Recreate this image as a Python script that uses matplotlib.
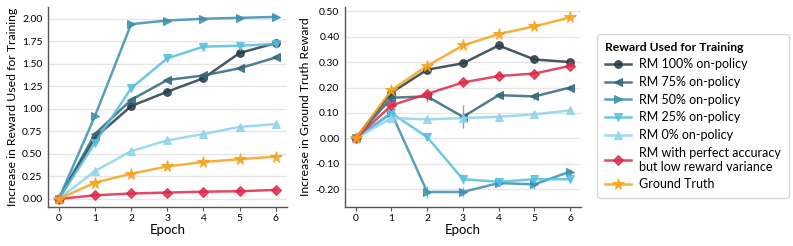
import numpy as np
import matplotlib
matplotlib.use('Agg')
import matplotlib.pyplot as plt

plt.rcParams['font.family'] = ['Lato', 'DejaVu Sans']
plt.rcParams['axes.unicode_minus'] = False

epochs = [0, 1, 2, 3, 4, 5, 6]

labels = ['RM 100% on-policy', 'RM 75% on-policy', 'RM 50% on-policy',
          'RM 25% on-policy', 'RM 0% on-policy',
          'RM with perfect accuracy\nbut low reward variance', 'Ground Truth']

# increase in reward used for training
train_rm100 = [0, 0.68, 1.03, 1.19, 1.34, 1.62, 1.73]
train_rm75 = [0, 0.72, 1.10, 1.32, 1.37, 1.45, 1.57]
train_rm50 = [0, 0.92, 1.94, 1.98, 2.00, 2.01, 2.02]
train_rm25 = [0, 0.62, 1.23, 1.56, 1.69, 1.70, 1.72]
train_rm0 = [0, 0.31, 0.53, 0.65, 0.72, 0.80, 0.83]
train_perfect = [0, 0.04, 0.06, 0.07, 0.08, 0.085, 0.10]
train_gt = [0, 0.18, 0.28, 0.36, 0.41, 0.44, 0.47]

# increase in ground truth reward
gt_rm100 = [0, 0.18, 0.27, 0.295, 0.365, 0.31, 0.30]
gt_rm75 = [0, 0.16, 0.165, 0.085, 0.17, 0.165, 0.20]
gt_rm50 = [0, 0.10, -0.21, -0.21, -0.175, -0.18, -0.13]
gt_rm25 = [0, 0.10, 0.005, -0.16, -0.17, -0.16, -0.16]
gt_rm0 = [0, 0.08, 0.075, 0.08, 0.085, 0.095, 0.11]
gt_perfect = [0, 0.13, 0.175, 0.22, 0.245, 0.255, 0.285]
gt_gt = [0, 0.19, 0.285, 0.365, 0.41, 0.44, 0.475]

# rough error bars on ground truth panel
gt_err_rm75 = [0, 0.02, 0.02, 0.045, 0.01, 0.015, 0.01]
gt_err_rm50 = [0, 0.01, 0.025, 0.02, 0.015, 0.02, 0.01]
gt_err_rm25 = [0, 0.01, 0.01, 0.02, 0.015, 0.01, 0.01]

colors = ['#253c46', '#33677b', '#3a90b1', '#55bfe1', '#8ed3ec', '#e0294a', '#f6a31c']
markers = ['o', '<', '>', 'v', '^', 'D', '*']
msizes = [5.5, 5.5, 5.5, 5.5, 5.5, 5.5, 8.5]

train_series = [train_rm100, train_rm75, train_rm50, train_rm25, train_rm0, train_perfect, train_gt]
gt_series = [gt_rm100, gt_rm75, gt_rm50, gt_rm25, gt_rm0, gt_perfect, gt_gt]
gt_errs = [None, gt_err_rm75, gt_err_rm50, gt_err_rm25, None, None, None]

fig = plt.figure(figsize=(7.93, 2.46), dpi=100)
ax1 = fig.add_axes([0.0605, 0.1585, 0.301, 0.813])
ax2 = fig.add_axes([0.435, 0.1585, 0.2976, 0.813])

handles = []
for i in range(len(labels)):
    h, = ax1.plot(epochs, train_series[i], color=colors[i], marker=markers[i],
                  markersize=msizes[i], lw=1.8, alpha=0.85, label=labels[i],
                  markeredgewidth=0.8, zorder=3)
    handles.append(h)
    ax2.plot(epochs, gt_series[i], color=colors[i], marker=markers[i],
             markersize=msizes[i], lw=1.8, alpha=0.85,
             markeredgewidth=0.8, zorder=3)
    if gt_errs[i] is not None:
        ax2.errorbar(epochs, gt_series[i], yerr=gt_errs[i], fmt='none',
                     ecolor=colors[i], elinewidth=1, alpha=0.6, zorder=2)

for ax in (ax1, ax2):
    ax.set_xlim(-0.3, 6.3)
    ax.set_xticks(epochs)
    ax.set_xlabel('Epoch', fontsize=9.5, labelpad=1)
    ax.grid(axis='y', color='#e6e6e6', lw=1)
    ax.set_axisbelow(True)
    for s in ('top', 'right'):
        ax.spines[s].set_visible(False)
    for s in ('left', 'bottom'):
        ax.spines[s].set_color('#555555')
        ax.spines[s].set_linewidth(1)
    ax.tick_params(axis='x', length=3, labelsize=7.5, color='#555555', pad=2)
    ax.tick_params(axis='y', length=0, labelsize=7.5, pad=4)

ax1.set_ylim(-0.09, 2.13)
ax1.set_yticks(np.arange(0, 2.01, 0.25))
ax1.yaxis.set_major_formatter(matplotlib.ticker.FormatStrFormatter('%.2f'))
ax1.set_ylabel('Increase in Reward Used for Training', fontsize=8.8, labelpad=3)

ax2.set_ylim(-0.269, 0.516)
ax2.set_yticks(np.arange(-0.2, 0.51, 0.1))
ax2.yaxis.set_major_formatter(matplotlib.ticker.FormatStrFormatter('%.2f'))
ax2.set_ylabel('Increase in Ground Truth Reward', fontsize=8.8, labelpad=3)

leg = fig.legend(handles=handles, loc='upper left', bbox_to_anchor=(0.7453, 0.886),
                 title='Reward Used for Training', fontsize=9,
                 title_fontproperties={'weight': 'bold', 'size': 8.7},
                 frameon=True, fancybox=True, edgecolor='#cccccc',
                 handlelength=2.1, handletextpad=0.65, labelspacing=0.45,
                 borderpad=0.6)
leg._legend_box.align = 'left'

fig.savefig('out.png', dpi=100)
